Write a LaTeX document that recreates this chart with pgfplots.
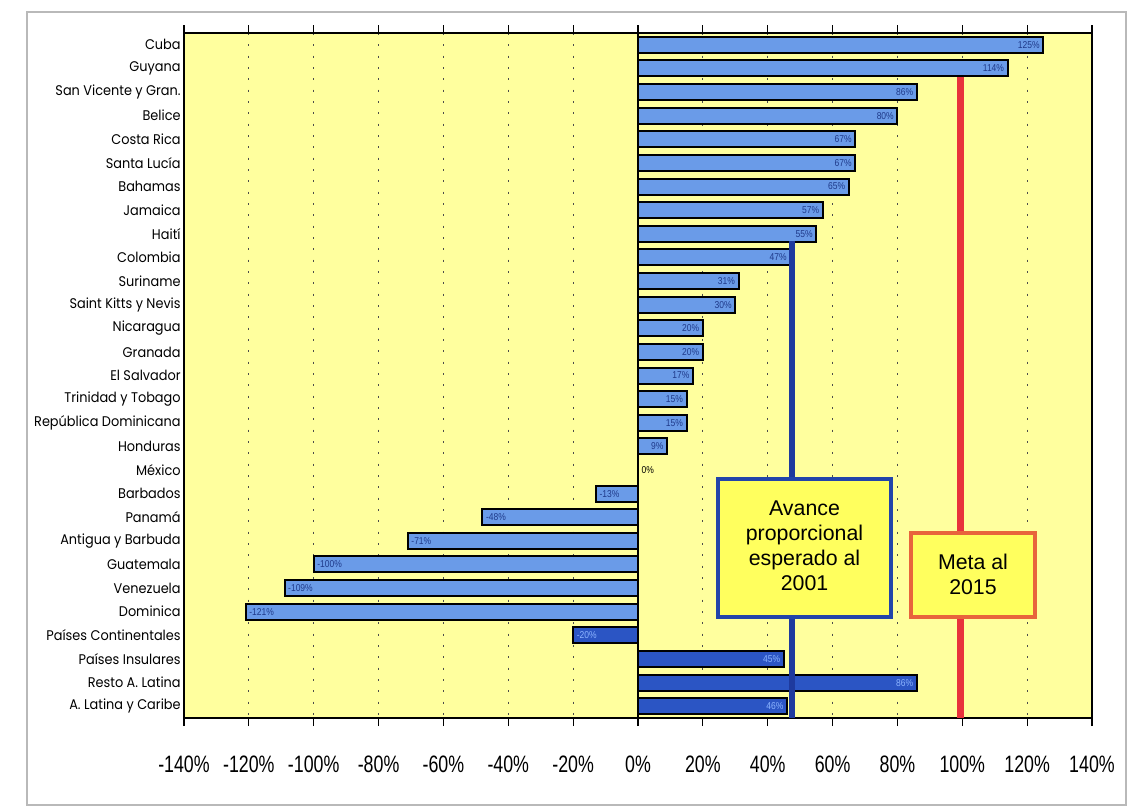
\documentclass[border=0pt]{standalone}
\usepackage{pgfplots}
\pgfplotsset{compat=1.18}
\usepackage{fontspec}
\setmainfont{Liberation Sans}
\newfontfamily\labfont[FakeStretch=0.92]{Poppins}
\newfontfamily\xtfont[FakeStretch=0.75]{Liberation Sans}
\newfontfamily\valfont[FakeStretch=0.85]{Liberation Sans}
\definecolor{plotbg}{HTML}{FFFF9E}
\definecolor{boxfill}{HTML}{FFFF5E}
\definecolor{lightbar}{HTML}{6A9BE8}
\definecolor{darkbar}{HTML}{2B55C4}
\definecolor{labdark}{HTML}{1F3A8A}
\definecolor{lablight}{HTML}{8CB4FF}
\definecolor{blueline}{HTML}{1E3A9E}
\definecolor{boxblue}{HTML}{2244AA}
\definecolor{redline}{HTML}{E8323C}
\definecolor{boxred}{HTML}{E8643C}
\pgfplotsset{
  mybar/.style={xbar, bar width=12pt, bar shift=0pt, draw=black, line width=1.5pt,
    point meta=x,
    nodes near coords={\pgfmathprintnumber[assume math mode=true]{\pgfplotspointmeta}\%}},
  labpos/.style={every node near coord/.append style={anchor=east, xshift=-1.5pt, font=\valfont\fontsize{7.5}{8}\selectfont, inner sep=0.5pt, text=#1}},
  labneg/.style={every node near coord/.append style={anchor=west, xshift=1.5pt, font=\valfont\fontsize{7.5}{8}\selectfont, inner sep=0.5pt, text=#1}},
}
\begin{document}
\begin{tikzpicture}[x=1pt,y=1pt]
\path[use as bounding box] (0,0) rectangle (846.75,607.5);
\draw[gray!55, line width=0.8pt] (20.25,3.75) rectangle (844.5,598.5);
\begin{axis}[
  at={(138pt,69pt)}, anchor=south west,
  scale only axis, width=681pt, height=513.75pt,
  xmin=-140, xmax=140, ymin=-0.5, ymax=28.5, y dir=reverse,
  axis background/.style={fill=plotbg},
  axis line style={black, line width=1.2pt},
  xtick={-140,-120,-100,-80,-60,-40,-20,0,20,40,60,80,100,120,140},
  xticklabel={\pgfmathprintnumber[assume math mode=true]{\tick}\%},
  xticklabel style={font=\xtfont\fontsize{17.8}{20}\selectfont, yshift=-19pt},
  tick align=outside, major tick length=6pt,
  xtick style={black, line width=0.8pt},
  xmajorgrids, grid style={black!70, dash pattern=on 1.5pt off 7pt, line width=0.6pt},
  ytick={0,...,28},
  yticklabels={Cuba,Guyana,San Vicente y Gran.,Belice,Costa Rica,Santa Lucía,Bahamas,Jamaica,Haití,Colombia,Suriname,Saint Kitts y Nevis,Nicaragua,Granada,El Salvador,Trinidad y Tobago,República Dominicana,Honduras,México,Barbados,Panamá,Antigua y Barbuda,Guatemala,Venezuela,Dominica,Países Continentales,Países Insulares,Resto A. Latina,A. Latina y Caribe},
  yticklabel style={font=\labfont\fontsize{10.5}{12}\selectfont, xshift=7pt},
  ytick style={draw=none},
  clip=false,
]
\addplot[black, line width=0.8pt] coordinates {(0,-0.5) (0,28.5)};
\addplot[mybar, fill=lightbar, labpos=labdark] coordinates {
(125,0) (114,1) (86,2) (80,3) (67,4) (67,5) (65,6) (57,7) (55,8) (47,9)
(31,10) (30,11) (20,12) (20,13) (17,14) (15,15) (15,16) (9,17)};
\addplot[mybar, fill=lightbar, labneg=labdark] coordinates {
(-13,19) (-48,20) (-71,21) (-100,22) (-109,23) (-121,24)};
\addplot[mybar, fill=darkbar, labneg=lablight] coordinates {(-20,25)};
\addplot[mybar, fill=darkbar, labpos=lablight] coordinates {(45,26) (86,27) (46,28)};
\addplot[draw=none, point meta=x,
  nodes near coords={\pgfmathprintnumber[assume math mode=true]{\pgfplotspointmeta}\%},
  every node near coord/.append style={anchor=west, xshift=2pt, font=\valfont\fontsize{7.5}{8}\selectfont, inner sep=0.5pt, text=black}]
  coordinates {(0,18)};
\addplot[blueline, line width=5pt] coordinates {(47.5,8.3) (47.5,28.5)};
\addplot[redline, line width=5pt] coordinates {(99.5,1.35) (99.5,28.5)};
\draw[boxblue, line width=3.5pt, fill=boxfill] (axis cs:24.7,18.38) rectangle (axis cs:78,24.23);
\node[align=center, font=\fontsize{16}{18.75}\selectfont] at (axis cs:51.35,21.2) {Avance\\proporcional\\esperado al\\2001};
\draw[boxred, line width=3.5pt, fill=boxfill] (axis cs:84.2,20.67) rectangle (axis cs:122.4,24.23);
\node[align=center, font=\fontsize{16}{18.75}\selectfont] at (axis cs:103.3,22.4) {Meta al\\2015};
\end{axis}
\end{tikzpicture}
\end{document}
